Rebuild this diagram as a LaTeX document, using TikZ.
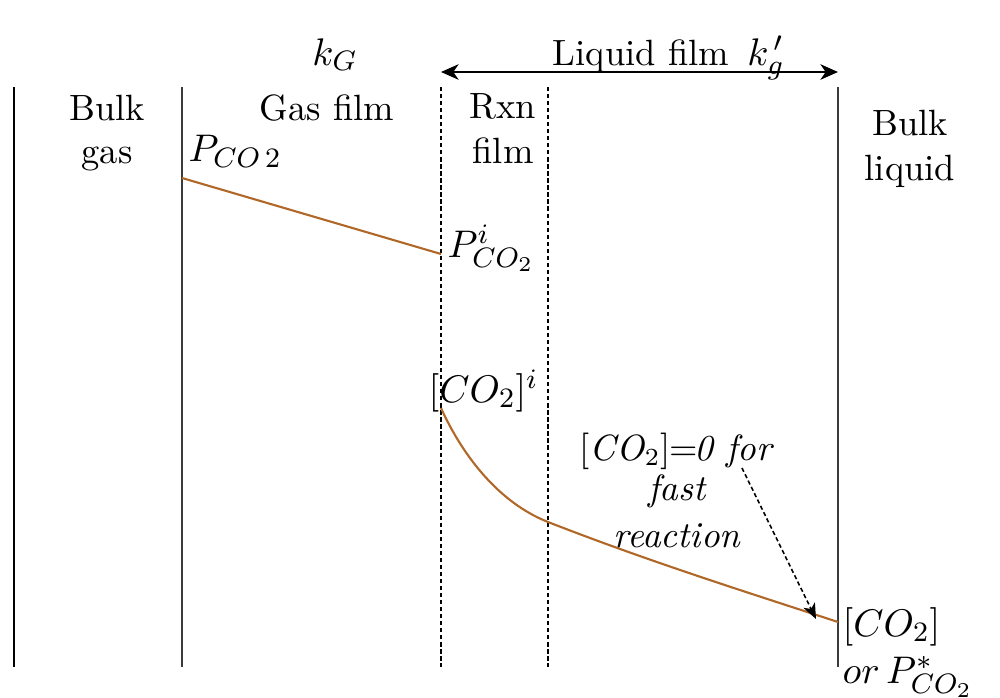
\documentclass[tikz,border=0pt]{standalone}
\usetikzlibrary{arrows.meta}
\definecolor{curvebrown}{RGB}{176,104,40}
\definecolor{linegray}{RGB}{60,60,60}
\tikzset{
  lbl/.style={font=\fontsize{10.4}{12}\selectfont, inner sep=0pt, anchor=base},
  mlbl/.style={font=\fontsize{11.2}{13}\selectfont, inner sep=0pt, anchor=base},
  mlblw/.style={mlbl, anchor=base west},
  thickwall/.style={line width=0.8pt, black},
  wall/.style={line width=0.45pt, linegray},
  dwall/.style={line width=0.4pt, black, dash pattern=on 1.2pt off 0.8pt},
  profile/.style={line width=0.6pt, curvebrown},
  span/.style={line width=0.6pt, black, {Stealth[length=5pt,width=4.4pt,inset=1.5pt]}-{Stealth[length=5pt,width=4.4pt,inset=1.5pt]}},
  pointer/.style={line width=0.45pt, black, dash pattern=on 1.2pt off 0.8pt, -{Stealth[length=4.4pt,width=3.6pt,inset=1.2pt]}}
}
\begin{document}
\begin{tikzpicture}[x=0.1mm, y=-0.1mm]
\useasboundingbox (0,0) rectangle (1000,698);
% coordinates
\coordinate (w0t) at (14,87);   \coordinate (w0b) at (14,667);
\coordinate (w1t) at (182,87);  \coordinate (w1b) at (182,667);
\coordinate (w2t) at (441,87);  \coordinate (w2b) at (441,667);
\coordinate (w3t) at (548,87);  \coordinate (w3b) at (548,667);
\coordinate (w4t) at (838,87);  \coordinate (w4b) at (838,667);
\coordinate (al) at (441,72);   \coordinate (ar) at (838,72);
\coordinate (g0) at (182,178);  \coordinate (g1) at (441,254);
\coordinate (c0) at (441,408);  \coordinate (cm) at (548,522);  \coordinate (c1) at (838,622);
\coordinate (pa) at (742,468);  \coordinate (pb) at (816,619);
% walls
\draw[thickwall] (w0t) -- (w0b);
\draw[wall] (w1t) -- (w1b);
\draw[dwall] (w2t) -- (w2b);
\draw[dwall] (w3t) -- (w3b);
\draw[wall] (w4t) -- (w4b);
% span arrow
\draw[span] (al) -- (ar);
% profiles
\draw[profile] (g0) -- (g1);
\draw[profile] (c0) .. controls (460,450) and (495,501) .. (cm)
               .. controls (648,561) and (740,590) .. (c1);
% pointer
\draw[pointer] (pa) -- (pb);
% labels
\node[mlbl] (kG) at (335,65) {$k_G$};
\node[lbl] (liq) at (641,65) {Liquid film};
\node[mlbl] (kg) at (766,65) {$k_g^{\,\prime}$};
\node[lbl] (bg1) at (107,120) {Bulk};
\node[lbl] (bg2) at (107,163) {gas};
\node[lbl] (gf) at (327,120) {Gas film};
\node[lbl] (rx1) at (503,118) {Rxn};
\node[lbl] (rx2) at (503,163) {film};
\node[lbl] (bl1) at (910,135) {Bulk};
\node[lbl] (bl2) at (910,180) {liquid};
\node[mlblw] (pco2) at (188,162) {$P_{CO\,2}$};
\node[mlblw] (pi) at (447,257) {$P^{i}_{CO_2}$};
\node[mlblw] (ci) at (428,402) {$[CO_2]^{i}$};
\node[lbl] (f1) at (677,460) {[\textit{CO}$_2$]\kern-0.5pt=\kern-0.8pt\textit{0 for}};
\node[lbl] (f2) at (677,500) {\itshape fast};
\node[lbl] (f3) at (677,547) {\itshape reaction};
\node[mlblw] (cb) at (842,636) {$[CO_2]$};
\node[mlblw] (ps) at (842,683) {$or\,P^{*}_{CO_2}$};
\end{tikzpicture}
\end{document}
